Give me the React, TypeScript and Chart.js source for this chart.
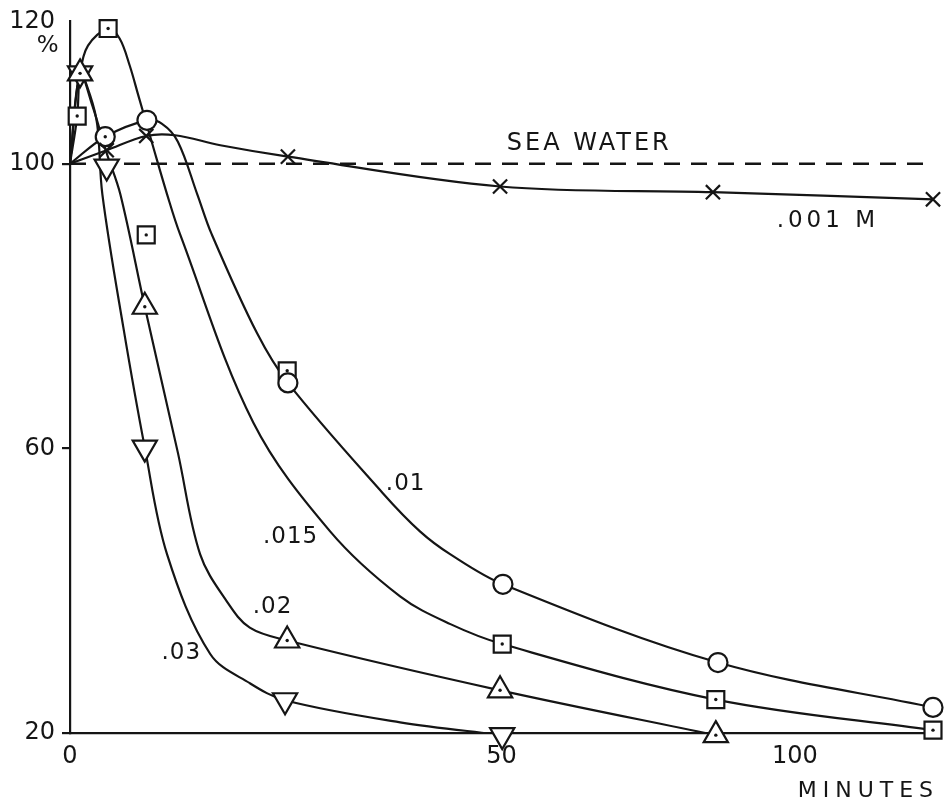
import React, { useEffect, useRef } from "react";
import { Chart, registerables } from "chart.js";

Chart.register(...registerables);

type P = { x: number; y: number };

// ---- Curves (hand-drawn fits: minutes, percent) ----
const curve001: P[] = [
  { x: 0, y: 100 }, { x: 5.1, y: 101.9 }, { x: 10.6, y: 103.9 }, { x: 14.6, y: 104.0 },
  { x: 20.9, y: 102.6 }, { x: 30.3, y: 101.0 }, { x: 59.8, y: 96.8 },
  { x: 89.4, y: 96.0 }, { x: 120, y: 95.0 },
];
const curve01: P[] = [
  { x: 0, y: 100 }, { x: 4.9, y: 103.8 }, { x: 10.7, y: 106.1 }, { x: 12.8, y: 105.6 },
  { x: 15.0, y: 103.1 }, { x: 17.7, y: 95.7 }, { x: 19.7, y: 90.1 }, { x: 26.0, y: 76.2 },
  { x: 30.3, y: 69.2 }, { x: 43.5, y: 53.7 }, { x: 48.7, y: 48.3 }, { x: 52.9, y: 45.1 },
  { x: 60.2, y: 40.9 }, { x: 90.1, y: 29.9 }, { x: 120, y: 23.6 },
];
const curve015: P[] = [
  { x: 0, y: 100 }, { x: 1.0, y: 106.7 }, { x: 1.4, y: 112.7 }, { x: 2.5, y: 116.6 },
  { x: 5.3, y: 119.0 }, { x: 6.9, y: 117.6 }, { x: 8.3, y: 113.8 },
  { x: 9.5, y: 109.6 }, { x: 11.5, y: 102.6 }, { x: 13.5, y: 95.7 },
  { x: 15.3, y: 90.1 }, { x: 25.5, y: 63.6 }, { x: 36.2, y: 48.3 }, { x: 45.9, y: 39.2 },
  { x: 52.9, y: 35.3 }, { x: 60.1, y: 32.5 }, { x: 89.8, y: 24.7 }, { x: 120, y: 20.4 },
];
const curve02: P[] = [
  { x: 0, y: 100 }, { x: 1.4, y: 112.7 }, { x: 3.1, y: 108.2 },
  { x: 5.1, y: 101.5 }, { x: 7.0, y: 95.7 }, { x: 10.4, y: 79.9 },
  { x: 15.0, y: 59.4 }, { x: 18.1, y: 45.1 }, { x: 21.8, y: 38.5 }, { x: 25.0, y: 34.8 },
  { x: 30.2, y: 33.0 }, { x: 59.8, y: 26.0 }, { x: 89.8, y: 19.7 },
];
const curve03: P[] = [
  { x: 0, y: 100 }, { x: 1.4, y: 112.7 }, { x: 2.8, y: 109.6 }, { x: 3.8, y: 105.4 },
  { x: 4.5, y: 95.7 }, { x: 7.4, y: 77.1 }, { x: 10.4, y: 60.1 },
  { x: 13.5, y: 45.1 }, { x: 19.5, y: 31.1 }, { x: 25.0, y: 27.0 }, { x: 29.9, y: 24.6 },
  { x: 45.9, y: 21.5 }, { x: 60.1, y: 19.7 },
];
const seaWater: P[] = [{ x: 0, y: 100 }, { x: 120, y: 100 }];

// ---- Observed points (markers) ----
const crossMarks: P[] = [
  { x: 5.1, y: 101.9 }, { x: 10.6, y: 103.9 }, { x: 30.3, y: 101.0 }, { x: 59.8, y: 96.8 },
  { x: 89.4, y: 96.0 }, { x: 120, y: 95.0 },
];
const circleMarks: P[] = [
  { x: 4.9, y: 103.8 }, { x: 10.7, y: 106.1 }, { x: 30.3, y: 69.2 }, { x: 60.2, y: 40.9 },
  { x: 90.1, y: 29.9 }, { x: 120, y: 23.6 },
];
const squareMarks: P[] = [
  { x: 1.0, y: 106.7 }, { x: 5.3, y: 119.0 }, { x: 10.6, y: 90.0 }, { x: 30.2, y: 70.9 },
  { x: 60.1, y: 32.5 }, { x: 89.8, y: 24.7 }, { x: 120, y: 20.4 },
];
const triUpMarks: P[] = [
  { x: 1.4, y: 112.7 }, { x: 10.4, y: 79.9 }, { x: 30.2, y: 33.0 }, { x: 59.8, y: 26.0 },
  { x: 89.8, y: 19.7 },
];
const triDownMarks: P[] = [
  { x: 1.4, y: 112.7 }, { x: 5.1, y: 99.6 }, { x: 10.4, y: 60.1 }, { x: 29.9, y: 24.6 },
  { x: 60.1, y: 19.7 },
];

// ---- Axis ticks ----
const xTickValues = [0, 60, 100.8];
const xTickLabels = ["0", "50", "100"];
const yTickValues = [20, 60, 100, 120];
const yTickLabels = ["20", "60", "100", "120"];

// ---- Text annotations (data coordinates) ----
const annotations = [
  { text: "SEA WATER", x: 72.0, y: 102.8, size: 24, spacing: 3 },
  { text: ".001 M", x: 105.1, y: 91.9, size: 23, spacing: 4 },
  { text: ".01", x: 46.6, y: 55.0, size: 23, spacing: 1 },
  { text: ".015", x: 30.6, y: 47.5, size: 23, spacing: 1 },
  { text: ".02", x: 28.1, y: 37.7, size: 23, spacing: 1 },
  { text: ".03", x: 15.4, y: 31.2, size: 23, spacing: 1 },
  { text: "%", x: -3.1, y: 116.6, size: 23, spacing: 0 },
  { text: "MINUTES", x: 110.6, y: 11.8, size: 22, spacing: 6 },
];

const INK = "#151515";
const FONT = "'DejaVu Sans', sans-serif";

const textPlugin = {
  id: "textAnnotations",
  afterDatasetsDraw(chart: any) {
    const { ctx, scales } = chart;
    const xs = scales.x;
    const ys = scales.y;
    ctx.save();
    ctx.fillStyle = INK;
    ctx.textAlign = "center";
    ctx.textBaseline = "middle";
    for (const a of annotations) {
      ctx.font = `${a.size}px ${FONT}`;
      (ctx as any).letterSpacing = `${a.spacing}px`;
      ctx.fillText(a.text, xs.getPixelForValue(a.x) + a.spacing / 2, ys.getPixelForValue(a.y));
    }
    ctx.restore();
  },
};

function curveDs(data: P[], extra: any = {}) {
  return {
    type: "line",
    data,
    borderColor: INK,
    borderWidth: 2.2,
    pointRadius: 0,
    fill: false,
    tension: 0.35,
    order: 5,
    ...extra,
  };
}

function markDs(data: P[], style: string, radius: number, rotation = 0) {
  return {
    type: "scatter",
    data,
    showLine: false,
    pointStyle: style,
    pointRadius: radius,
    pointRotation: rotation,
    pointBorderColor: INK,
    pointBackgroundColor: "#ffffff",
    pointBorderWidth: 2.2,
    clip: false,
    order: 3,
  };
}

export default function App() {
  const canvasRef = useRef<HTMLCanvasElement | null>(null);

  useEffect(() => {
    const canvas = canvasRef.current;
    if (!canvas) return;
    const dotted = [...squareMarks, ...triUpMarks, circleMarks[0]];
    const chart = new Chart(canvas, {
      type: "scatter",
      data: {
        datasets: [
          curveDs(seaWater, { borderDash: [16, 11], borderWidth: 2.6, tension: 0 }),
          curveDs(curve001),
          curveDs(curve01),
          curveDs(curve015),
          curveDs(curve02),
          curveDs(curve03),
          markDs(crossMarks, "crossRot", 10),
          markDs(circleMarks, "circle", 9.5),
          markDs(squareMarks, "rect", 12),
          markDs(triUpMarks, "triangle", 14),
          markDs(triDownMarks, "triangle", 14, 180),
          {
            type: "scatter",
            data: dotted,
            showLine: false,
            pointStyle: "circle",
            pointRadius: 1.7,
            pointBorderWidth: 0,
            pointBackgroundColor: INK,
            clip: false,
            order: 1,
          },
        ] as any,
      },
      options: {
        responsive: false,
        animation: false,
        devicePixelRatio: 1,
        events: [],
        layout: { padding: { top: 15, right: 19, bottom: 0, left: 0 } },
        plugins: {
          legend: { display: false },
          tooltip: { enabled: false },
          title: { display: false },
        },
        scales: {
          x: {
            type: "linear",
            min: 0,
            max: 120,
            afterFit: (s: any) => {
              s.height = 72;
            },
            afterBuildTicks: (s: any) => {
              s.ticks = xTickValues.map((v) => ({ value: v }));
            },
            ticks: {
              autoSkip: false,
              maxRotation: 0,
              padding: 9,
              color: INK,
              font: { family: FONT, size: 24 },
              callback: (_v: any, i: number) => xTickLabels[i],
            },
            grid: { display: false, drawTicks: false },
            border: { display: true, color: INK, width: 2.2 },
          },
          y: {
            type: "linear",
            min: 20,
            max: 120,
            afterFit: (s: any) => {
              s.width = 70;
            },
            afterBuildTicks: (s: any) => {
              s.ticks = yTickValues.map((v) => ({ value: v }));
            },
            ticks: {
              autoSkip: false,
              padding: 7,
              color: INK,
              font: { family: FONT, size: 24 },
              callback: (_v: any, i: number) => yTickLabels[i],
            },
            grid: {
              display: true,
              drawOnChartArea: false,
              drawTicks: true,
              tickLength: 8,
              lineWidth: 2.2,
              color: (c: any) => (c.tick && c.tick.value === 120 ? "rgba(0,0,0,0)" : INK),
            },
            border: { display: true, color: INK, width: 2.2 },
          },
        },
      } as any,
      plugins: [textPlugin],
    });
    return () => chart.destroy();
  }, []);

  return (
    <div
      style={{
        position: "fixed",
        left: 0,
        top: 0,
        width: 952,
        height: 805,
        background: "#ffffff",
      }}
    >
      <canvas ref={canvasRef} width={952} height={805} />
    </div>
  );
}
